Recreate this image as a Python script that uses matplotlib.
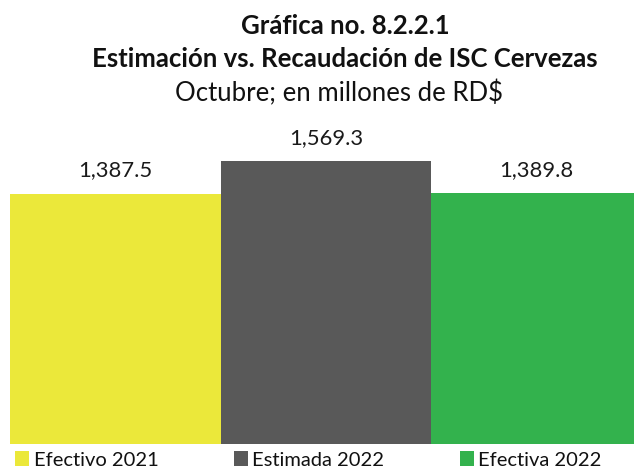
import matplotlib.pyplot as plt
from matplotlib.patches import Patch

categories = ["Efectivo 2021", "Estimada 2022", "Efectiva 2022"]
values = [1387.5, 1569.3, 1389.8]
colors = ["#EBE83A", "#595959", "#33B24D"]

plt.rcParams['font.family'] = ['Lato', 'DejaVu Sans']

fig = plt.figure(figsize=(6.34, 4.72), dpi=100)
W, H = 634, 472
# axes spans the three touching columns; the last one runs past the right edge
ax = fig.add_axes([10 / W, 1 - 444 / H, 632 / W, 283 / H])
x = range(len(categories))
bars = ax.bar(x, values, width=1.0, color=colors, align='center')
ax.set_xlim(-0.5, 2.5)
ax.set_ylim(0, max(values))
ax.axis('off')

for b, v in zip(bars, values):
    ax.annotate(f"{v:,.1f}", (b.get_x() + b.get_width() / 2, v),
                xytext=(0, 12.5), textcoords='offset points',
                ha='center', va='baseline', fontsize=15.8, color='#1a1a1a',
                annotation_clip=False)

fig.text(345 / W, 1 - 34 / H, "Gráfica no. 8.2.2.1", ha='center', va='baseline',
         fontsize=18.5, fontweight='bold', color='#111111')
fig.text(345 / W, 1 - 67 / H, "Estimación vs. Recaudación de ISC Cervezas",
         ha='center', va='baseline', fontsize=18.5, fontweight='bold', color='#111111')
fig.text(339 / W, 1 - 101 / H, "Octubre; en millones de RD$", ha='center', va='baseline',
         fontsize=18.5, color='#111111')

handles = [Patch(facecolor=c, edgecolor='none') for c in colors]
fig.legend(handles, categories, ncol=3, loc='center left',
           bbox_to_anchor=(15 / W, 1 - 460 / H), frameon=False,
           fontsize=14.5, handlelength=0.7, handleheight=0.7,
           handletextpad=0.22, columnspacing=3.75, borderaxespad=0,
           borderpad=0, labelcolor='#111111')

fig.savefig("out.png", dpi=100)
